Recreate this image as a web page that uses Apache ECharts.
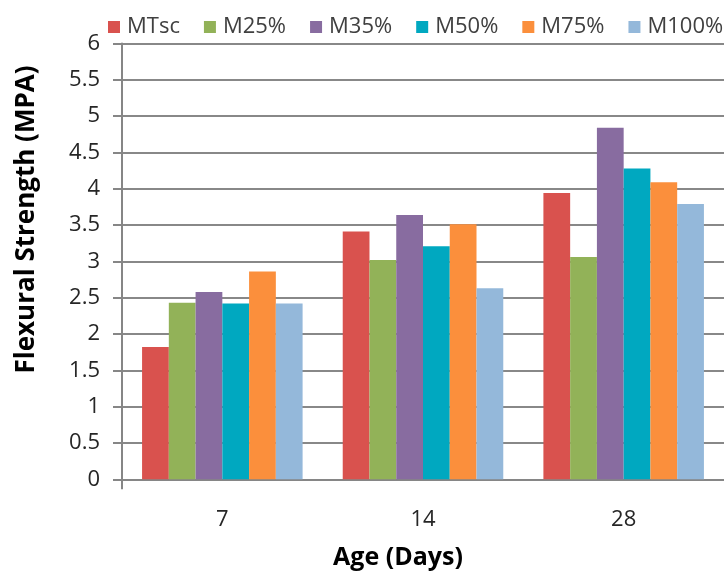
<!DOCTYPE html>
<html>
<head>
<meta charset="utf-8">
<script src="https://cdn.jsdelivr.net/npm/echarts@6/dist/echarts.min.js"></script>
<style>
html,body{margin:0;padding:0;background:#fff;}
#chart{width:724px;height:579px;}
</style>
</head>
<body>
<div id="chart"></div>
<script>
var categories = ['7', '14', '28'];
var seriesNames = ['MTsc', 'M25%', 'M35%', 'M50%', 'M75%', 'M100%'];
var MTsc = [1.82, 3.41, 3.94];
var M25 = [2.43, 3.02, 3.06];
var M35 = [2.58, 3.64, 4.84];
var M50 = [2.42, 3.21, 4.28];
var M75 = [2.86, 3.51, 4.09];
var M100 = [2.42, 2.63, 3.79];
var yTicks = [0, 0.5, 1, 1.5, 2, 2.5, 3, 3.5, 4, 4.5, 5, 5.5, 6];
var xTitle = 'Age (Days)';
var yTitle = 'Flexural Strength (MPA)';

var values = [MTsc, M25, M35, M50, M75, M100];
var colors = ['#D9524E', '#92B258', '#886CA0', '#00A8C0', '#FB8F3C', '#94B8DA'];
var FONT = '"Open Sans", sans-serif';
var AXIS_COLOR = '#868686';

var chart = echarts.init(document.getElementById('chart'));
var option = {
  animation: false,
  backgroundColor: '#ffffff',
  color: colors,
  legend: {
    left: 103,
    top: 11,
    width: 700,
    itemWidth: 12,
    itemHeight: 12,
    itemGap: 24,
    icon: 'rect',
    textStyle: { fontFamily: FONT, fontSize: 22, color: '#404040', lineHeight: 22, padding: [0, 0, 0, 2] },
    data: seriesNames
  },
  grid: [
    { left: 122, top: 43.5, width: 607, height: 435.8, containLabel: false },
    { left: 122, top: 43.5, width: 3000, height: 435.8, containLabel: false }
  ],
  xAxis: [
    {
      type: 'category',
      gridIndex: 0,
      data: categories,
      boundaryGap: true,
      axisLine: { show: true, lineStyle: { color: AXIS_COLOR, width: 2 } },
      axisTick: { show: false },
      axisLabel: { fontFamily: FONT, fontSize: 22, color: '#262626', margin: 29 },
      splitLine: { show: false }
    },
    {
      type: 'value',
      gridIndex: 1,
      min: 0, max: 1, interval: 1,
      axisLine: { show: false },
      axisTick: { show: true, length: 10, lineStyle: { color: AXIS_COLOR, width: 2 } },
      axisLabel: { show: false },
      splitLine: { show: false }
    }
  ],
  yAxis: [
    {
      type: 'value',
      gridIndex: 0,
      min: yTicks[0],
      max: yTicks[yTicks.length - 1],
      interval: yTicks[1] - yTicks[0],
      axisLine: { show: true, lineStyle: { color: AXIS_COLOR, width: 2 } },
      axisTick: { show: true, length: 9, inside: false, lineStyle: { color: AXIS_COLOR, width: 2 } },
      axisLabel: { fontFamily: FONT, fontSize: 22, color: '#262626', margin: 22 },
      splitLine: { show: true, lineStyle: { color: '#888888', width: 2 } }
    },
    {
      type: 'value',
      gridIndex: 1,
      min: 0, max: 1,
      show: false
    }
  ],
  graphic: [
    {
      type: 'text',
      x: 27, y: 219.5,
      rotation: Math.PI / 2,
      style: { text: yTitle, fontFamily: FONT, fontSize: 26, fontWeight: 'bold', fill: '#000', align: 'center', verticalAlign: 'middle' }
    },
    {
      type: 'text',
      x: 398, y: 558,
      style: { text: xTitle, fontFamily: FONT, fontSize: 25, fontWeight: 'bold', fill: '#000', align: 'center', verticalAlign: 'middle' }
    }
  ],
  series: seriesNames.map(function (name, i) {
    return {
      name: name,
      type: 'bar',
      xAxisIndex: 0,
      yAxisIndex: 0,
      data: values[i],
      barGap: '0%',
      barCategoryGap: '20%',
      itemStyle: { color: colors[i] }
    };
  })
};
chart.setOption(option);
</script>
</body>
</html>
